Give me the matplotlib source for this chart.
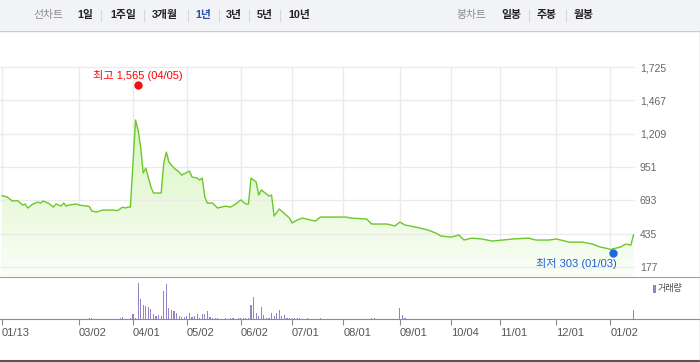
import matplotlib
matplotlib.use("Agg")
import matplotlib.pyplot as plt
import numpy as np
from matplotlib.patches import Rectangle
from matplotlib.lines import Line2D
from matplotlib.colors import LinearSegmentedColormap
from matplotlib.transforms import offset_copy

plt.rcParams['font.family'] = ['Liberation Sans', 'Noto Sans CJK KR']

# =========================================================
# Data (trading-day index)
# =========================================================
price_day = [0, 2, 4, 6, 8, 9, 10, 12, 14, 15,
             16, 18, 20, 21, 23, 24, 25, 26, 29, 30,
             33, 34, 35, 37, 39, 43, 45, 47, 48, 49,
             50, 52, 53, 54, 55, 56, 58, 59, 62, 63,
             64, 65, 66, 67, 69, 70, 73, 74, 76, 77,
             78, 79, 80, 82, 84, 87, 89, 91, 93, 95,
             96, 97, 99, 100, 101, 102, 104, 105, 106, 108,
             112, 113, 115, 117, 122, 124, 129, 134, 136, 142,
             144, 150, 153, 155, 157, 161, 166, 169, 171, 175,
             178, 180, 183, 187, 191, 195, 199, 205, 208, 213,
             216, 221, 226, 230, 233, 236, 237, 238, 241, 243,
             245, 246]
price_close = [729, 719, 688, 692, 657, 665, 634, 665, 680, 672,
               688, 672, 641, 665, 649, 672, 649, 657, 665, 657,
               649, 645, 610, 603, 618, 618, 614, 641, 634, 641,
               641, 1315, 1237, 1106, 905, 943, 796, 750, 750, 982,
               1067, 990, 966, 943, 912, 889, 920, 874, 866, 850,
               866, 719, 672, 672, 634, 649, 641, 665, 696, 665,
               665, 866, 835, 734, 773, 758, 727, 734, 572, 626,
               556, 518, 541, 556, 533, 564, 564, 564, 556, 549,
               510, 510, 495, 525, 502, 487, 463, 440, 417, 409,
               425, 386, 401, 394, 378, 386, 394, 401, 386, 386,
               394, 370, 370, 355, 332, 320, 312, 318, 332, 355,
               347, 425]

vol_day = [34, 35, 46, 47, 50, 51, 52, 53, 54, 55, 56, 57, 58, 59, 60,
           61, 62, 63, 64, 65, 66, 67, 68, 69, 70, 71, 72, 73, 74, 75,
           76, 77, 78, 79, 80, 81, 82, 83, 84, 87, 89, 90, 92, 93, 94,
           95, 96, 97, 98, 99, 100, 101, 102, 103, 104, 105, 106, 107, 108, 109,
           110, 111, 112, 113, 114, 115, 116, 119, 124, 144, 145, 155, 156, 157, 246]
vol = [13, 13, 13, 23, 13, 53, 13, 363, 203, 143, 133, 120, 103, 53, 33,
       43, 33, 283, 353, 113, 93, 80, 63, 33, 23, 23, 33, 63, 23, 33,
       53, 13, 53, 53, 83, 23, 13, 13, 13, 13, 13, 13, 13, 13, 13,
       13, 13, 143, 223, 63, 33, 123, 43, 13, 13, 63, 33, 63, 93, 33,
       43, 13, 13, 13, 13, 13, 13, 13, 13, 10, 10, 117, 43, 17, 90]

tick_day = [0, 30, 51, 72, 93, 113, 133, 155, 175, 194, 216, 237]
tick_label = ["01/13", "03/02", "04/01", "05/02", "06/02", "07/01",
              "08/01", "09/01", "10/04", "11/01", "12/01", "01/02"]

price_ticks = [177, 435, 693, 951, 1209, 1467, 1725]

high_day, high_val, high_date = 53, 1565, "04/05"
low_day, low_val, low_date = 238, 303, "01/03"

period_items = ["1일", "1주일", "3개월", "1년", "3년", "5년", "10년"]
candle_items = ["일봉", "주봉", "월봉"]

# =========================================================
# Layout helpers (pixel -> figure coords)
# =========================================================
W, H = 700, 362


def fx(px):
    return px / W


def fy(py):
    return 1 - py / H


fig = plt.figure(figsize=(7, 3.62), dpi=100)

# toolbar
fig.patches.append(Rectangle((0, fy(30)), 1, 30 / H, transform=fig.transFigure,
                             facecolor='#f2f3f7', edgecolor='none', zorder=0))
fig.add_artist(Line2D([0, 1], [fy(30.5)] * 2, color='#c9cacf', lw=1))

fig.text(fx(33), fy(15), "선차트", color='#8a8a8a', fontsize=7.8, va='center', ha='left')
period_x = [77, 110, 152, 195, 226, 257, 288]
for lbl, px in zip(period_items, period_x):
    c = '#2b50a8' if lbl == "1년" else '#222222'
    fig.text(fx(px), fy(15), lbl, color=c, fontsize=7.8, fontweight='bold', va='center', ha='left')
for px in [101, 144, 188, 219, 249, 280, 529, 566]:
    fig.add_artist(Line2D([fx(px)] * 2, [fy(10), fy(21)], color='#d6d6d6', lw=0.8))

fig.text(fx(456), fy(15), "봉차트", color='#8a8a8a', fontsize=7.8, va='center', ha='left')
for lbl, px in zip(candle_items, [501, 537, 574]):
    fig.text(fx(px), fy(15), lbl, color='#222222', fontsize=7.8, fontweight='bold', va='center', ha='left')

# =========================================================
# Price panel
# =========================================================
ax = fig.add_axes([0, fy(277), fx(635), (277 - 31) / H])
x0, x1 = -0.8, price_day[-1] + 0.6
ybot, ytop = 100, 2004
ax.set_xlim(x0, x1)
ax.set_ylim(ybot, ytop)
ax.set_facecolor('none')
for s in ax.spines.values():
    s.set_visible(False)

ax.set_yticks(price_ticks)
ax.set_yticklabels([f"{v:,}" for v in price_ticks])
ax.yaxis.tick_right()
ax.tick_params(axis='y', length=0, pad=3.6, labelsize=7.5, labelcolor='#666666')
ax.set_xticks([])
ax.grid(axis='y', color='#ebebeb', lw=1, zorder=0)
ax.vlines(tick_day, ybot, price_ticks[-1], color='#ebebeb', lw=1, zorder=0)

# gradient fill under the line
poly = ax.fill_between(price_day, price_close, ybot, color='none', lw=0)
cmap = LinearSegmentedColormap.from_list('g', ['#fafef7', '#cdf2ad'])
grad = np.linspace(0, 1, 256).reshape(-1, 1)
im = ax.imshow(grad, extent=(x0, x1, ybot, price_ticks[-1]), origin='lower',
               cmap=cmap, aspect='auto', zorder=1)
im.set_clip_path(poly.get_paths()[0], transform=ax.transData)
ax.set_xlim(x0, x1)
ax.set_ylim(ybot, ytop)

ax.plot(price_day, price_close, color='#6cc72a', lw=1.0, zorder=3)

# high / low markers sit slightly outside the value, as in the source chart
up = offset_copy(ax.transData, fig=fig, y=2.5, units='dots')
down = offset_copy(ax.transData, fig=fig, y=-2.5, units='dots')
ax.plot(high_day, high_val, 'o', color='#ee1111', ms=5, zorder=4, transform=up)
ax.annotate(f"최고 {high_val:,} ({high_date})", (high_day, high_val), xytext=(0, 9),
            textcoords='offset points', ha='center', va='center', color='#ff0000', fontsize=8)
ax.plot(low_day, low_val, 'o', color='#1a6be0', ms=5, zorder=4, transform=down)
ax.annotate(f"최저 {low_val} ({low_date})", (low_day, low_val), xytext=(3, -9),
            textcoords='offset points', ha='right', va='center', color='#1d5ed0', fontsize=8)

# =========================================================
# Volume panel
# =========================================================
ppd = 635 / (x1 - x0)
axv = fig.add_axes([0, fy(319.3), 1, (319.3 - 277) / H])
axv.set_xlim(x0, x0 + W / ppd)
axv.set_ylim(0, max(vol) * 1.165)
axv.set_facecolor('none')
axv.bar(vol_day, vol, width=0.45, color='#9583c6', lw=0)
for k in ['left', 'right']:
    axv.spines[k].set_visible(False)
axv.spines['top'].set_color('#a0a0a0')
axv.spines['bottom'].set_color('#8c8c8c')
axv.set_yticks([])
axv.set_xticks(tick_day)
axv.set_xticklabels(tick_label)
axv.tick_params(axis='x', length=4.5, color='#8c8c8c', labelsize=8, labelcolor='#555555', pad=2)
for t in axv.get_xticklabels():
    t.set_ha('left')

# legend
fig.patches.append(Rectangle((fx(653), fy(293)), 3 / W, 8 / H, transform=fig.transFigure,
                             facecolor='#9583c6', edgecolor='none'))
fig.text(fx(658), fy(289), "거래량", color='#444444', fontsize=6.5, va='center', ha='left')

# borders
fig.add_artist(Line2D([0, 1], [fy(360.5)] * 2, color='#555555', lw=1.5))
fig.add_artist(Line2D([fx(699.5)] * 2, [fy(30), fy(360)], color='#c8c8c8', lw=1))

fig.savefig("out.png", dpi=100)
